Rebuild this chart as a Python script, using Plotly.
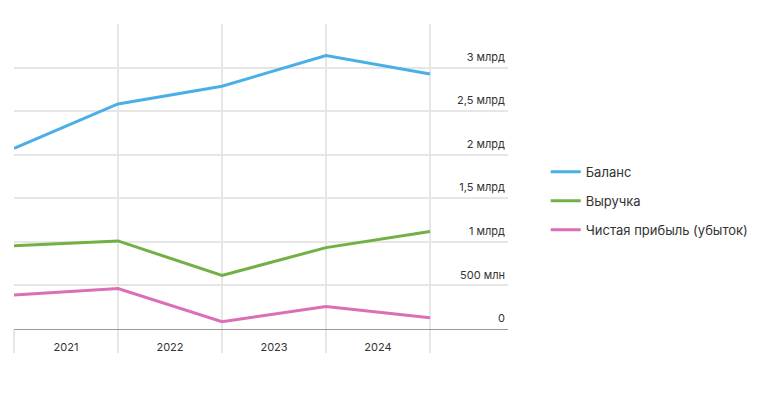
import plotly.graph_objects as go

positions = [0, 1, 2, 3, 4]
year_labels = ["2021", "2022", "2023", "2024"]
balance = [2.073e9, 2.583e9, 2.786e9, 3.137e9, 2.927e9]
revenue = [0.954e9, 1.011e9, 0.614e9, 0.934e9, 1.118e9]
profit = [0.389e9, 0.465e9, 0.084e9, 0.259e9, 0.129e9]
y_ticks = [0, 0.5e9, 1e9, 1.5e9, 2e9, 2.5e9, 3e9]
y_tick_labels = ["0", "500 млн", "1 млрд", "1,5 млрд", "2 млрд", "2,5 млрд", "3 млрд"]

series = [
    ("Баланс", balance, "#4aafe6"),
    ("Выручка", revenue, "#72b043"),
    ("Чистая прибыль (убыток)", profit, "#da6fb7"),
]

fig = go.Figure()
for i, (name, vals, color) in enumerate(series):
    fig.add_trace(go.Scatter(
        x=positions, y=vals, name=name, mode="lines",
        line=dict(color=color, width=3), legendgroup=f"g{i}",
    ))

fig.update_layout(
    width=751, height=391,
    margin=dict(l=6, r=251, t=16, b=70),
    paper_bgcolor="white", plot_bgcolor="white",
    font=dict(family="Inter, Roboto, sans-serif", color="#333333", size=11),
    showlegend=True,
    legend=dict(xref="container", x=0.716, xanchor="left",
                yref="paper", y=0.42, yanchor="middle",
                font=dict(size=13, color="#333333"), tracegroupgap=9,
                itemwidth=30),
    xaxis=dict(
        range=[0, 4.75],
        tickvals=[0.5, 1.5, 2.5, 3.5], ticktext=year_labels,
        ticks="outside", ticklen=8, tickcolor="rgba(0,0,0,0)",
        showgrid=False, zeroline=False,
        showline=True, linecolor="#999999", linewidth=1,
        minor=dict(tickvals=positions, showgrid=True, gridcolor="#e6e6e6",
                   gridwidth=2, ticks="outside", ticklen=23,
                   tickcolor="#e6e6e6", tickwidth=2),
        tickfont=dict(size=11, color="#333333"),
        fixedrange=True,
    ),
    yaxis=dict(
        range=[0, 3.5e9], side="right",
        tickvals=y_ticks, ticktext=y_tick_labels,
        ticklabelposition="inside top",
        ticklabelshift=-3,
        showgrid=True, gridcolor="#e6e6e6", gridwidth=1.5,
        zeroline=False, showline=False,
        tickfont=dict(size=11, color="#333333"),
    ),
)

fig.write_html("out.html")
